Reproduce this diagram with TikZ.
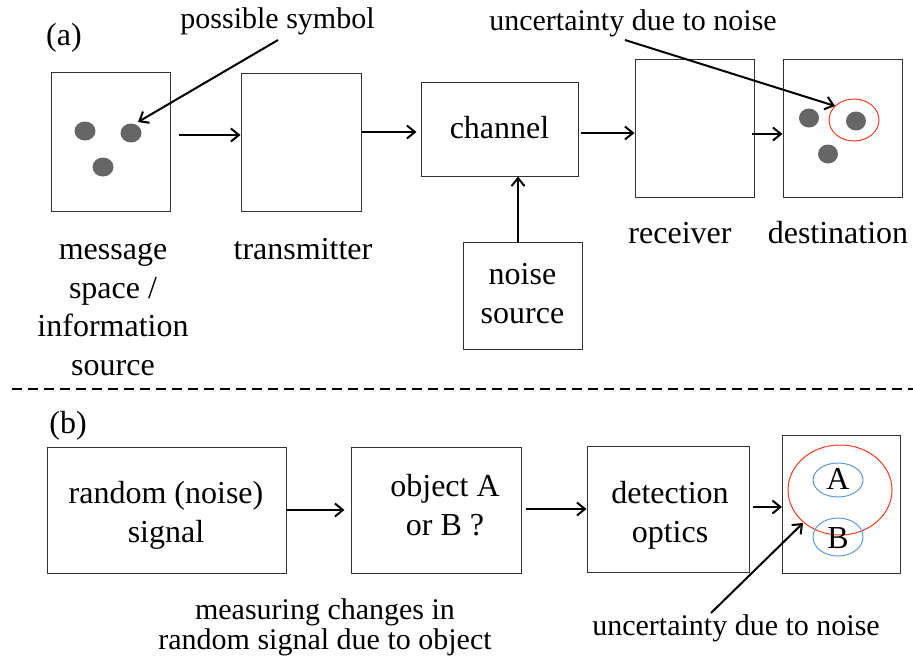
\documentclass[tikz,border=0pt]{standalone}
\usepackage{fontspec}
\setmainfont{Liberation Serif}
\usetikzlibrary{arrows.meta}
\definecolor{dotgray}{HTML}{666666}
\definecolor{boxgray}{HTML}{333333}
\definecolor{redring}{HTML}{F03C1E}
\definecolor{bluering}{HTML}{5B9BD5}
\tikzset{
  blk/.style={draw=boxgray, line width=1pt, inner sep=0pt},
  lbl/.style={font=\fontsize{32}{38.5}\selectfont, inner sep=0pt, align=center},
  note/.style={font=\fontsize{30}{30}\selectfont, inner sep=0pt, align=center},
  arr/.style={line width=2pt, -{Straight Barb[length=8pt,width=13pt,line width=2pt]}},
}
\begin{document}
\begin{tikzpicture}[x=1pt,y=-1pt]
\useasboundingbox (0,0) rectangle (913,662);
% ---------- (a) ----------
\node[lbl, anchor=base] (la) at (64,45) {(a)};
\node[blk, minimum width=119pt, minimum height=139pt] (src) at (110.5,141.5) {};
\node[blk, minimum width=120pt, minimum height=138pt] (tx) at (301,142) {};
\node[blk, minimum width=157pt, minimum height=94pt] (ch) at (499.5,129) {};
\node[lbl, anchor=base] (cht) at (499.5,138) {channel};
\node[blk, minimum width=119pt, minimum height=138pt] (rx) at (694.5,128) {};
\node[blk, minimum width=119pt, minimum height=138pt] (dst) at (842.5,128) {};
\node[blk, minimum width=119pt, minimum height=107pt] (ns) at (522.5,295.5) {};
\node[lbl, anchor=base] (nst) at (522.5,323) {noise\\source};
% dots
\fill[dotgray] (85,131) ellipse [x radius=10.5pt, y radius=9.5pt];
\fill[dotgray] (131,133) ellipse [x radius=10.5pt, y radius=9.5pt];
\fill[dotgray] (103,167) ellipse [x radius=10.5pt, y radius=9.5pt];
\fill[dotgray] (809,118) ellipse [x radius=10pt, y radius=9.5pt];
\fill[dotgray] (856,121) ellipse [x radius=10pt, y radius=9.5pt];
\fill[dotgray] (828,154) ellipse [x radius=10pt, y radius=9.5pt];
\draw[redring, line width=1pt] (854,120) ellipse [x radius=25pt, y radius=21pt];
\coordinate (sym) at (138,122);
\coordinate (unc) at (835,106);
\coordinate (nsx) at (518,0);
% labels
\node[lbl, anchor=base] (srct) at (113,375) {message\\space /\\information\\source};
\node[lbl, anchor=base] (txt) at (303,259) {transmitter};
\node[lbl, anchor=base] (rxt) at (680,243) {receiver};
\node[lbl, anchor=base] (dstt) at (838,243) {destination};
\node[note, anchor=base] (ps) at (277.5,28) {possible symbol};
\node[note, anchor=base] (un1) at (633,30) {uncertainty due to noise};
% arrows
\draw[arr] ([xshift=8pt]src.east |- 0,135) -- (tx.west |- 0,135);
\draw[arr] (tx.east |- 0,132) -- ([xshift=-4pt]ch.west |- 0,132);
\draw[arr] ([xshift=2pt]ch.east |- 0,133) -- (rx.west |- 0,133);
\draw[arr] ([xshift=-3pt]rx.east |- 0,134) -- (dst.west |- 0,134);
\draw[arr] (nsx |- ns.north) -- (nsx |- ch.south);
\draw[arr] (278,40) -- (sym);
\draw[arr] (625,40) -- (unc);
% separator
\draw[line width=2pt, dash pattern=on 10pt off 6pt] (12,389) -- (913,389);
% ---------- (b) ----------
\node[lbl, anchor=base] (lb) at (68,433) {(b)};
\node[blk, minimum width=239pt, minimum height=126pt] (rnd) at (166.5,510) {};
\node[lbl, anchor=base] (rndt) at (166,542) {random (noise)\\signal};
\node[blk, minimum width=170pt, minimum height=126pt] (obj) at (436,510) {};
\node[lbl, anchor=base] (objt) at (445,535) {object A\\or B ?};
\node[blk, minimum width=162pt, minimum height=126pt] (det) at (668,509) {};
\node[lbl, anchor=base] (dett) at (670,542) {detection\\optics};
\node[blk, minimum width=118pt, minimum height=138pt] (fin) at (841.5,504) {};
\draw[redring, line width=1pt] (840,490) ellipse [x radius=52pt, y radius=45pt];
\draw[bluering, line width=1pt] (838,480) ellipse [x radius=25pt, y radius=17pt];
\draw[bluering, line width=1pt] (838,537) ellipse [x radius=25pt, y radius=19pt];
\node[lbl, anchor=base] (ta) at (838,489) {A};
\node[lbl, anchor=base] (tb) at (838,548) {B};
\coordinate (unc2) at (803,523);
\node[note, anchor=base] (meas) at (325,649) {measuring changes in\\random signal due to object};
\node[note, anchor=base] (un2) at (736,635) {uncertainty due to noise};
\draw[arr] (rnd.east |- 0,510) -- ([xshift=-6pt]obj.west |- 0,510);
\draw[arr] ([xshift=4pt]obj.east |- 0,509) -- (det.west |- 0,509);
\draw[arr] ([xshift=3pt]det.east |- 0,507) -- (fin.west |- 0,507);
\draw[arr] (711,613) -- (unc2);
\end{tikzpicture}
\end{document}
